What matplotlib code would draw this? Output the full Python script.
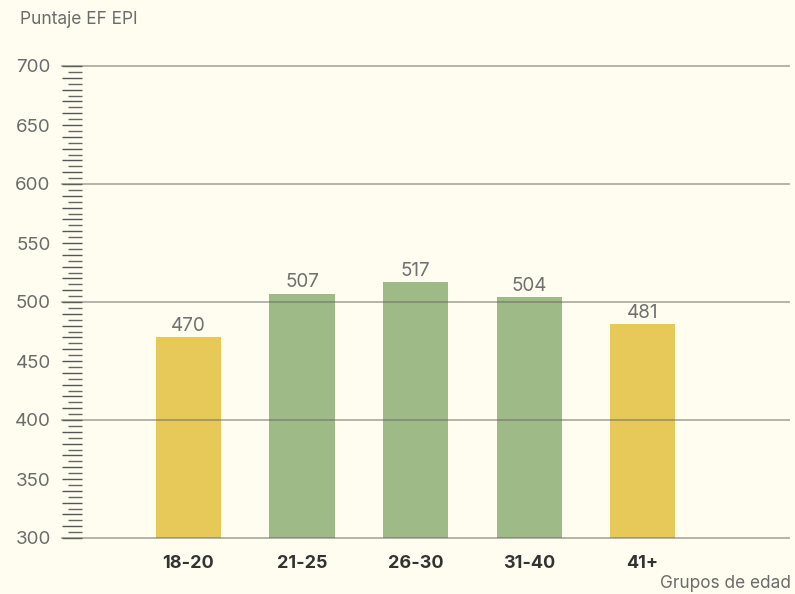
import matplotlib.pyplot as plt
from matplotlib.ticker import MultipleLocator, FuncFormatter

plt.rcParams['font.family'] = ['Inter', 'DejaVu Sans']

grupos = ['18-20', '21-25', '26-30', '31-40', '41+']
puntaje = [470, 507, 517, 504, 481]
colores = ['#E7C95A', '#9DBA87', '#9DBA87', '#9DBA87', '#E7C95A']

bg = '#FFFDEF'
fig = plt.figure(figsize=(7.95, 5.94), dpi=100, facecolor=bg)
ax = fig.add_axes([82/795, 1-538/594, (789-82)/795, (538-66)/594], facecolor=bg)

x = list(range(len(grupos)))
ax.bar(x, puntaje, width=0.573, color=colores, zorder=2)
for xi, v in zip(x, puntaje):
    ax.text(xi, v + 2, str(v), ha='center', va='bottom', fontsize=13.6, color='#707070', zorder=4)

ax.set_xlim(-0.938, 5.29)
ax.set_ylim(300, 700)

# horizontal grid every 100, extended left under the ticks
w = 789 - 82
for y in range(300, 701, 100):
    ax.axhline(y, xmin=-20/w, xmax=1, color='#6a6a60', alpha=0.5, lw=1.4, clip_on=False, zorder=3)

ax.yaxis.set_major_locator(MultipleLocator(10))
ax.yaxis.set_minor_locator(MultipleLocator(5))
ax.yaxis.set_major_formatter(FuncFormatter(lambda v, p: f'{int(v)}' if int(round(v)) % 50 == 0 else ''))
ax.tick_params(axis='y', which='major', direction='out', length=14.5, width=1.0, color='#555555',
               pad=8, labelsize=13.5, labelcolor='#6b6b6b')
ax.tick_params(axis='y', which='minor', direction='out', length=10, width=1.0, color='#666666')

ax.set_xticks(x)
ax.set_xticklabels(grupos, fontsize=13, fontweight='bold', color='#333333')
ax.tick_params(axis='x', length=0, pad=12)

for s in ax.spines.values():
    s.set_visible(False)

fig.text(20/795, 1-20/594, 'Puntaje EF EPI', fontsize=12.5, color='#6b6b6b', ha='left', va='center')
fig.text(791/795, 1-583/594, 'Grupos de edad', fontsize=12.4, color='#6b6b6b', ha='right', va='center')

fig.savefig('out.png', dpi=100, facecolor=bg)
